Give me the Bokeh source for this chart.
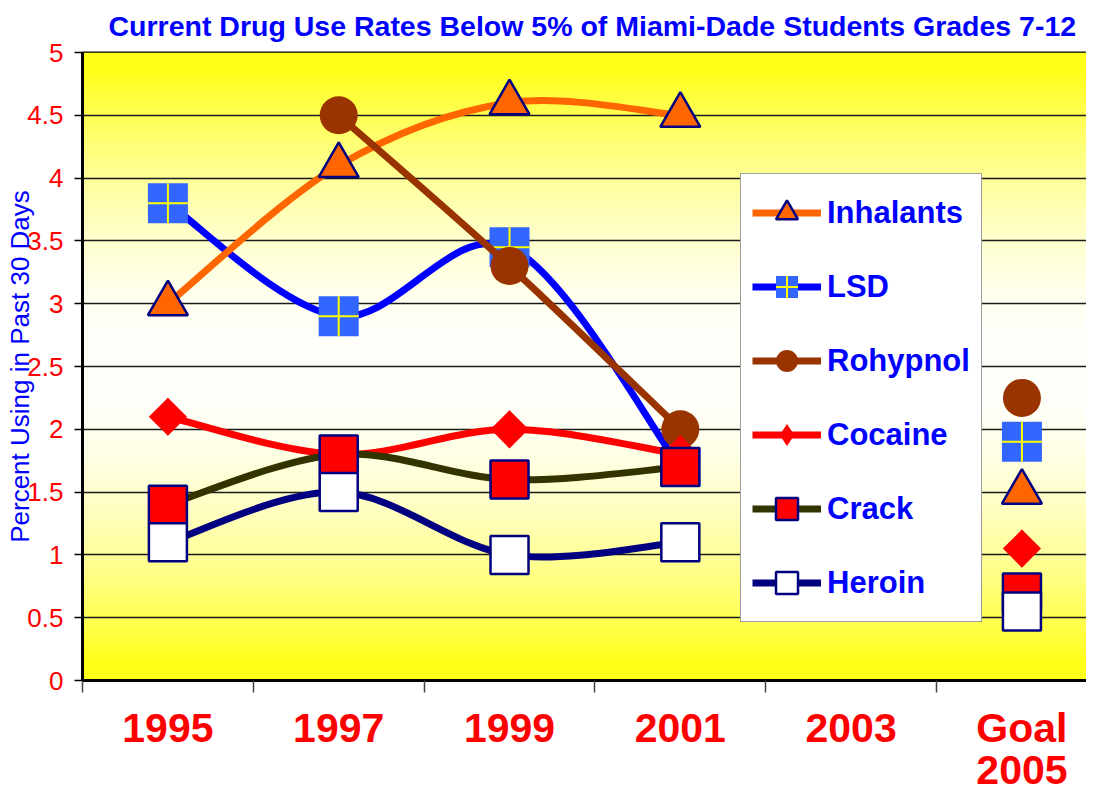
import numpy as np
from bokeh.plotting import figure
from bokeh.models import (Range1d, FixedTicker, NumeralTickFormatter, Legend,
                          LegendItem, LinearAxis, Title)
from bokeh.embed import file_html
from bokeh.resources import INLINE

nan = float("nan")

# ---------------- data ----------------
categories = ["1995", "1997", "1999", "2001", "2003", "Goal\n2005"]
inhalants = [3.0, 4.1, 4.6, 4.5, nan, 1.5]
lsd = [3.8, 2.9, 3.45, 1.7, nan, 1.9]
rohypnol = [nan, 4.5, 3.3, 2.0, nan, 2.25]
cocaine = [2.1, 1.8, 2.0, 1.8, nan, 1.05]
crack = [1.4, 1.8, 1.6, 1.7, nan, 0.7]
heroin = [1.1, 1.5, 1.0, 1.1, nan, 0.55]
y_ticks = [0, 0.5, 1, 1.5, 2, 2.5, 3, 3.5, 4, 4.5, 5]

title_text = "Current Drug Use Rates Below 5%  of Miami-Dade Students Grades 7-12"
y_label = "Percent Using in Past 30 Days"

# ---------------- styling ----------------
FONT = "Liberation Sans"
W, H = 1086, 791
xpos = [i + 0.5 for i in range(len(categories))]

p = figure(width=W, height=H, output_backend="svg", toolbar_location=None,
           x_range=Range1d(0, 5.878), y_range=Range1d(0, 5),
           min_border_left=82, min_border_right=0, min_border_top=52,
           min_border_bottom=111)

p.title.text = title_text
p.title.text_font = FONT
p.title.text_font_size = "28.5px"
p.title.text_font_style = "bold"
p.title.text_color = "#0000FF"
p.title.align = "left"
p.title.offset = 26
p.title.vertical_align = "top"
p.title.standoff = 17

p.outline_line_color = "black"
p.outline_line_width = 2
p.background_fill_color = "white"
p.border_fill_color = "white"

# vertical gradient background of the plot area (yellow - white - yellow)
N = 628
img = np.empty((N, 1), dtype=np.uint32)
view = img.view(dtype=np.uint8).reshape((N, 1, 4))
yy = (np.arange(N) + 0.5) / N * 5.0
t = np.abs(yy - 2.5) / 2.5
blue = np.clip(255 * (1 - t ** 1.8), 25, 250)
view[:, 0, 0] = 255
view[:, 0, 1] = 255
view[:, 0, 2] = blue.astype(np.uint8)
view[:, 0, 3] = 255
p.image_rgba(image=[img], x=0, y=0, dw=6, dh=5, level="image")

# grid
p.xgrid.visible = False
p.ygrid.ticker = FixedTicker(ticks=y_ticks)
p.ygrid.grid_line_color = "#1a1a1a"
p.ygrid.grid_line_width = 1.4

# y axis
p.yaxis.ticker = FixedTicker(ticks=y_ticks)
p.yaxis.formatter = NumeralTickFormatter(format="0.[0]")
p.yaxis.major_label_text_font = FONT
p.yaxis.major_label_text_font_size = "26px"
p.yaxis.major_label_text_color = "#FF0000"
p.yaxis.major_tick_in = 0
p.yaxis.major_tick_out = 8
p.yaxis.major_tick_line_color = "black"
p.yaxis.major_tick_line_width = 1.5
p.yaxis.minor_tick_line_color = None
p.yaxis.axis_line_color = "black"
p.yaxis.axis_line_width = 3
p.yaxis.major_label_standoff = 11

# y axis title as a left-side title (overlapping the tick labels slightly)
p.add_layout(Title(text=y_label, align="center", standoff=-21,
                   text_font=FONT, text_font_size="26px", text_font_style="normal",
                   text_color="#0000FF"), "left")

# x axis: labels at category centres, boundary ticks as minor ticks
p.xaxis.ticker = FixedTicker(ticks=xpos, minor_ticks=list(range(len(categories) + 1)))
p.xaxis.major_label_overrides = {x: c.split("\n")[0] for x, c in zip(xpos, categories)}
p.xaxis.major_tick_line_color = None
p.xaxis.major_tick_in = 0
p.xaxis.major_tick_out = 0
p.xaxis.minor_tick_in = 0
p.xaxis.minor_tick_out = 12
p.xaxis.minor_tick_line_color = "#444444"
p.xaxis.minor_tick_line_width = 1.5
p.xaxis.axis_line_color = "black"
p.xaxis.axis_line_width = 3
p.xaxis.major_label_text_font = FONT
p.xaxis.major_label_text_font_size = "41px"
p.xaxis.major_label_text_font_style = "bold"
p.xaxis.major_label_text_color = "#FF0000"
p.xaxis.major_label_standoff = 12

# second line of the category labels ("2005" under "Goal")
second = {x: c.split("\n")[1] for x, c in zip(xpos, categories) if "\n" in c}
ax2 = LinearAxis(ticker=FixedTicker(ticks=list(second.keys()), minor_ticks=[]),
                 major_label_overrides=second,
                 axis_line_color=None, major_tick_line_color=None,
                 minor_tick_line_color=None, major_tick_in=0, major_tick_out=0,
                 major_label_standoff=2, major_label_text_font=FONT,
                 major_label_text_font_size="41px", major_label_text_font_style="bold",
                 major_label_text_color="#FF0000")
p.add_layout(ax2, "below")


def bezier_segments(xs, ys):
    runs, cur = [], []
    for x, y in zip(xs, ys):
        if np.isnan(y):
            if cur:
                runs.append(cur)
            cur = []
        else:
            cur.append((x, y))
    if cur:
        runs.append(cur)
    seg = {k: [] for k in ["x0", "y0", "x1", "y1", "cx0", "cy0", "cx1", "cy1"]}
    for run in runs:
        P = np.array(run, dtype=float)
        n = len(P)
        for i in range(n - 1):
            p0 = P[max(i - 1, 0)]
            p1 = P[i]
            p2 = P[i + 1]
            p3 = P[min(i + 2, n - 1)]
            c0 = p1 + (p2 - p0) / 6.0
            c1 = p2 - (p3 - p1) / 6.0
            seg["x0"].append(p1[0]); seg["y0"].append(p1[1])
            seg["x1"].append(p2[0]); seg["y1"].append(p2[1])
            seg["cx0"].append(c0[0]); seg["cy0"].append(c0[1])
            seg["cx1"].append(c1[0]); seg["cy1"].append(c1[1])
    return seg


def draw_line(ys, color):
    s = bezier_segments(xpos, ys)
    return p.bezier(line_color=color, line_width=7, line_cap="butt", **s)


NAVY = "#000080"
items = {}

# LSD
r_l = draw_line(lsd, "#0000FF")
r_m1 = p.scatter(xpos, lsd, marker="square", size=40, fill_color="#3366FF", line_color=None)
r_m2 = p.scatter(xpos, lsd, marker="cross", size=40, line_color="#FFFF00", line_width=2)
items["LSD"] = [r_l, r_m1, r_m2]

# Inhalants
r_l = draw_line(inhalants, "#FF6600")
r_m = p.scatter(xpos, inhalants, marker="triangle", size=40, fill_color="#FF6600",
                line_color=NAVY, line_width=2.5)
items["Inhalants"] = [r_l, r_m]

# Rohypnol
r_l = draw_line(rohypnol, "#993300")
r_m = p.scatter(xpos, rohypnol, marker="circle", size=38, fill_color="#993300", line_color=None)
items["Rohypnol"] = [r_l, r_m]

# Cocaine
r_l = draw_line(cocaine, "#FF0000")
p.scatter(xpos, cocaine, marker="square", size=27, angle=np.pi / 4,
          fill_color="#FF0000", line_color=None)
r_m = p.scatter(xpos, cocaine, marker="diamond", size=38, fill_color="#FF0000", line_color=None)
items["Cocaine"] = [r_l, r_m]

# Crack
r_l = draw_line(crack, "#333300")
r_m = p.scatter(xpos, crack, marker="square", size=38, fill_color="#FF0000",
                line_color=NAVY, line_width=2.5)
items["Crack"] = [r_l, r_m]

# Heroin
r_l = draw_line(heroin, NAVY)
r_m = p.scatter(xpos, heroin, marker="square", size=38, fill_color="white",
                line_color=NAVY, line_width=2.5)
items["Heroin"] = [r_l, r_m]

legend_order = ["Inhalants", "LSD", "Rohypnol", "Cocaine", "Crack", "Heroin"]
legend = Legend(items=[LegendItem(label=n, renderers=items[n]) for n in legend_order],
                location=(658, 58), orientation="vertical",
                glyph_width=69, glyph_height=55, spacing=19, padding=11,
                label_standoff=6, label_text_font=FONT, label_text_font_style="bold",
                label_text_font_size="31px", label_text_color="#0000FF",
                label_text_baseline="middle",
                border_line_color="#404040", border_line_width=1.5,
                background_fill_color="white", background_fill_alpha=1.0, margin=0)
p.add_layout(legend)

open("out.html", "w").write(file_html(p, INLINE))
